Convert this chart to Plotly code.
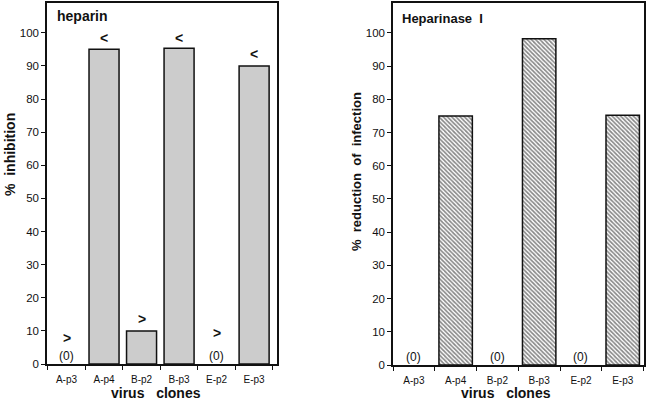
import plotly.graph_objects as go

clones = ["A-p3", "A-p4", "B-p2", "B-p3", "E-p2", "E-p3"]
heparin = [0, 95, 10, 95.3, 0, 90]
heparin_marks = [">", "<", ">", "<", ">", "<"]
heparin_mark_y = [8, 98.5, 13.5, 98.5, 9.3, 93.5]
heparin_zero = ["(0)", "", "", "", "(0)", ""]
heparinase = [0, 75, 0, 98.2, 0, 75.2]
heparinase_zero = ["(0)", "", "(0)", "", "(0)", ""]
yticks = [0, 10, 20, 30, 40, 50, 60, 70, 80, 90, 100]

FONT = "Liberation Sans, Arial, sans-serif"


def outline(vals):
    return [1.5 if v > 0 else 0 for v in vals]


fig = go.Figure()
fig.add_trace(go.Bar(x=clones, y=heparin, width=0.8, xaxis="x", yaxis="y",
                     marker=dict(color="#cccccc",
                                 line=dict(color="#111", width=outline(heparin))),
                     showlegend=False))
fig.add_trace(go.Bar(x=clones, y=heparinase, width=0.8, xaxis="x2", yaxis="y2",
                     marker=dict(color="white",
                                 line=dict(color="#111", width=outline(heparinase)),
                                 pattern=dict(shape="\\", size=3, solidity=0.55,
                                              fgcolor="#111", bgcolor="white")),
                     showlegend=False))

ax_common = dict(showline=True, linecolor="#111", linewidth=1.5, mirror=True,
                 showgrid=False, zeroline=False, ticks="outside", ticklen=4,
                 tickcolor="#111", tickwidth=1.2, automargin=False)

fig.update_layout(
    width=646, height=402, margin=dict(l=0, r=0, t=0, b=0),
    paper_bgcolor="white", plot_bgcolor="white",
    font=dict(family=FONT, color="#111"),
    bargap=0.2,
    xaxis=dict(domain=[47/646, 277/646], range=[-0.52, 5.61], anchor="y",
               tickson="boundaries", tickfont=dict(size=10), ticklabelstandoff=5,
               **ax_common),
    yaxis=dict(domain=[38/402, 399/402], range=[0, 109], anchor="x",
               tickvals=yticks, tickfont=dict(size=11.5), **ax_common),
    xaxis2=dict(domain=[393/646, 644/646], range=[-0.5, 5.51], anchor="y2",
                tickson="boundaries", tickfont=dict(size=10), ticklabelstandoff=5,
                **ax_common),
    yaxis2=dict(domain=[37/402, 399/402], range=[0, 109], anchor="x2",
                tickvals=yticks, tickfont=dict(size=11.5), **ax_common),
)

ann = []
for c, m, my in zip(clones, heparin_marks, heparin_mark_y):
    ann.append(dict(x=c, y=my, xref="x", yref="y", text="<b>%s</b>" % m,
                    showarrow=False, font=dict(size=14)))
for c, z in zip(clones, heparin_zero):
    if z:
        ann.append(dict(x=c, y=2.5, xref="x", yref="y", text=z, showarrow=False,
                        font=dict(size=12)))
for c, z in zip(clones, heparinase_zero):
    if z:
        ann.append(dict(x=c, y=2.5, xref="x2", yref="y2", text=z, showarrow=False,
                        font=dict(size=12)))


def pann(x, y, text, size, angle=0, xanchor="center"):
    return dict(x=x/646, y=1-y/402, xref="paper", yref="paper", xanchor=xanchor,
                yanchor="middle", textangle=angle, text=text, showarrow=False,
                font=dict(size=size))


ann += [
    pann(55, 16, "<b>heparin</b>", 14, xanchor="left"),
    pann(400, 19, "<b>Heparinase  I</b>", 13, xanchor="left"),
    pann(10, 155, "<b>%  inhibition</b>", 14, angle=-90),
    pann(356, 172, "<b>%  reduction  of  infection</b>", 13, angle=-90),
    pann(156, 393, "<b>virus   clones</b>", 14),
    pann(506, 393, "<b>virus   clones</b>", 14),
]
fig.update_layout(annotations=ann)
fig.write_html("out.html", config={"displayModeBar": False},
               post_script="document.body.style.margin='0';document.body.style.overflow='hidden';")
